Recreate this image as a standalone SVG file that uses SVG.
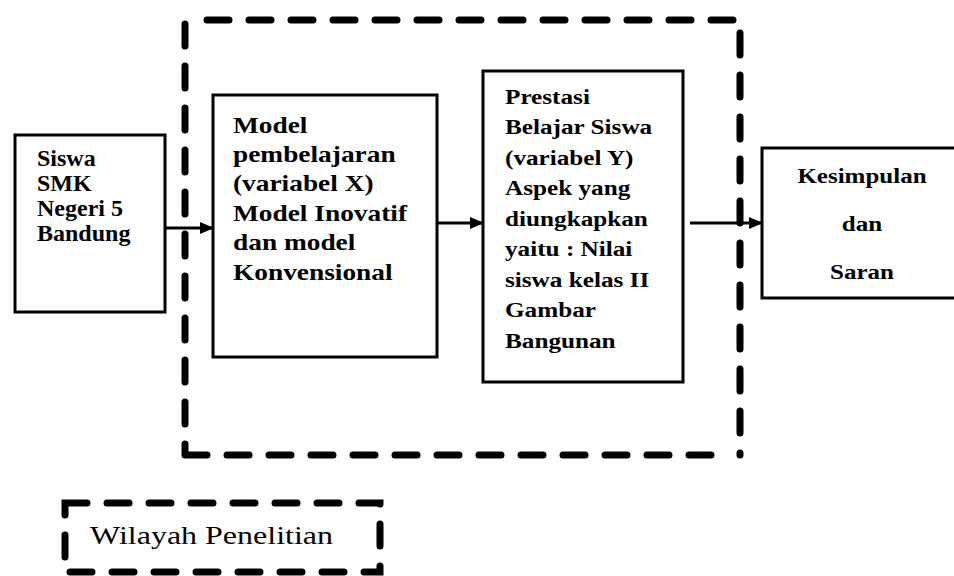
<svg xmlns="http://www.w3.org/2000/svg" width="954" height="576" viewBox="0 0 954 576">
  <style>
    .box { fill: #fff; stroke: #000; stroke-width: 3; }
    .dash { fill: none; stroke: #000; stroke-width: 7; stroke-dasharray: 22 20; stroke-linecap: round; }
    .lbl { font-family: "Liberation Serif", "Times New Roman", serif; font-weight: bold; fill: #000; }
    .leg { font-family: "Liberation Serif", "Times New Roman", serif; fill: #000; }
    .conn { stroke: #000; stroke-width: 3; fill: none; }
  </style>
  <defs>
    <marker id="arrow" markerUnits="userSpaceOnUse" markerWidth="14" markerHeight="12" refX="13" refY="6" orient="auto">
      <path d="M0,0 L14,6 L0,12 Z" fill="#000"/>
    </marker>
  </defs>
  <rect width="954" height="576" fill="#fff"/>

  <!-- research area boundary -->
  <g id="research-area">
    <path class="dash" d="M185,24 V455 M207,20 H740 V455 M185,455 H720"/>
  </g>

  <g id="siswa">
    <rect class="box" x="15" y="135" width="150" height="177"/>
    <g class="lbl" font-size="24">
      <text x="37" y="166">Siswa</text>
      <text x="37" y="191">SMK</text>
      <text x="37" y="216">Negeri 5</text>
      <text x="37" y="241">Bandung</text>
    </g>
  </g>

  <g id="model">
    <rect class="box" x="213" y="95" width="224" height="262"/>
    <g class="lbl" font-size="23" transform="translate(233,0) scale(1.19,1)">
      <text x="0" y="133">Model</text>
      <text x="0" y="162">pembelajaran</text>
      <text x="0" y="191">(variabel X)</text>
      <text x="0" y="221">Model Inovatif</text>
      <text x="0" y="250">dan model</text>
      <text x="0" y="280">Konvensional</text>
    </g>
  </g>

  <g id="prestasi">
    <rect class="box" x="483" y="71" width="200" height="311"/>
    <g class="lbl" font-size="21" transform="translate(505,0) scale(1.2,1)">
      <text x="0" y="104">Prestasi</text>
      <text x="0" y="134.5">Belajar Siswa</text>
      <text x="0" y="165">(variabel Y)</text>
      <text x="0" y="195.5">Aspek yang</text>
      <text x="0" y="226">diungkapkan</text>
      <text x="0" y="256.5">yaitu : Nilai</text>
      <text x="0" y="287">siswa kelas II</text>
      <text x="0" y="317.5">Gambar</text>
      <text x="0" y="348">Bangunan</text>
    </g>
  </g>

  <g id="kesimpulan">
    <rect class="box" x="762" y="148" width="200" height="150"/>
    <g class="lbl" font-size="20" text-anchor="middle" transform="translate(862,0) scale(1.25,1)">
      <text x="0" y="183">Kesimpulan</text>
      <text x="0" y="231">dan</text>
      <text x="0" y="279">Saran</text>
    </g>
  </g>

  <g id="connectors">
    <line class="conn" x1="165" y1="228" x2="213" y2="228" marker-end="url(#arrow)"/>
    <line class="conn" x1="437" y1="223" x2="483" y2="223" marker-end="url(#arrow)"/>
    <line class="conn" x1="690" y1="223" x2="762" y2="223" marker-end="url(#arrow)"/>
  </g>

  <g id="legend">
    <rect class="dash" x="65" y="503" width="315" height="69"/>
    <text class="leg" font-size="26" x="90" y="544" textLength="243" lengthAdjust="spacingAndGlyphs">Wilayah Penelitian</text>
  </g>
</svg>
